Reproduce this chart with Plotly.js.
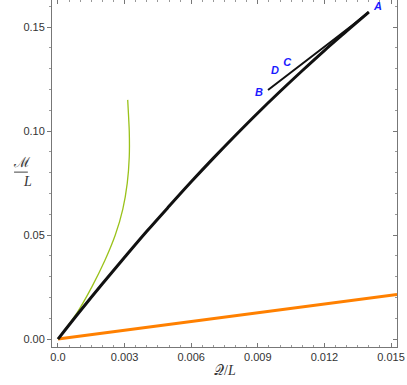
<!DOCTYPE html>
<html>
<head>
<meta charset="utf-8">
<script src="https://cdn.plot.ly/plotly-3.0.1.min.js"></script>
<style>
  html, body { margin: 0; padding: 0; background: #fff; }
  #plot { width: 407px; height: 385px; }
</style>
</head>
<body>
<div id="plot"></div>
<script>
  // lower black branch (origin up to A)
  var lowerQ = [0, 0.001, 0.002, 0.003, 0.004, 0.005, 0.006, 0.007, 0.008, 0.009, 0.010, 0.011, 0.012, 0.013, 0.0140];
  var lowerM = [0, 0.0135, 0.0266, 0.0393, 0.0518, 0.0638, 0.0756, 0.0870, 0.0980, 0.1087, 0.1190, 0.1290, 0.1387, 0.1480, 0.1572];

  // upper black branch (B up to A)
  var upperQ = [0.00946, 0.0105, 0.0115, 0.0125, 0.0133, 0.0140];
  var upperM = [0.1197, 0.1281, 0.1364, 0.1446, 0.1512, 0.1572];

  // thin green curve
  var greenQ = [0, 0.00085, 0.00152, 0.00210, 0.00258, 0.00292, 0.00312, 0.00321, 0.00321, 0.00314];
  var greenM = [0, 0.0125, 0.0250, 0.0375, 0.0500, 0.0625, 0.0750, 0.0875, 0.1000, 0.1150];

  // orange straight line
  var orangeQ = [0, 0.01527];
  var orangeM = [0, 0.0214];

  // point labels
  var labelText = ['A', 'B', 'C', 'D'];
  var labelQ = [0.01441, 0.00905, 0.01032, 0.00977];
  var labelM = [0.1596, 0.1183, 0.1327, 0.1288];

  var xTicks = [0, 0.003, 0.006, 0.009, 0.012, 0.015];
  var xTickText = ['0.0', '0.003', '0.006', '0.009', '0.012', '0.015'];
  var yTicks = [0, 0.05, 0.10, 0.15];
  var yTickText = ['0.00', '0.05', '0.10', '0.15'];

  var xRange = [-0.00027, 0.01527];
  var yRange = [-0.0038, 0.163];

  var data = [
    {x: orangeQ, y: orangeM, mode: 'lines', line: {color: '#ff8000', width: 3}, hoverinfo: 'skip'},
    {x: greenQ, y: greenM, mode: 'lines', line: {color: '#9ac21a', width: 1.3, shape: 'spline', smoothing: 0.5}, hoverinfo: 'skip'},
    {x: lowerQ, y: lowerM, mode: 'lines', line: {color: '#111', width: 3, shape: 'spline'}, hoverinfo: 'skip'},
    {x: upperQ, y: upperM, mode: 'lines', line: {color: '#111', width: 2}, hoverinfo: 'skip'},
    {x: labelQ, y: labelM, mode: 'text', text: labelText.map(function (t) { return '<b><i>' + t + '</i></b>'; }),
     textfont: {family: 'Liberation Sans, Arial, sans-serif', size: 11, color: '#1a1aff'}, hoverinfo: 'skip'}
  ];

  var tickFont = {family: 'Liberation Sans, Arial, sans-serif', size: 11, color: '#333'};

  var layout = {
    width: 407, height: 385,
    margin: {l: 52, r: 10, t: 0, b: 38},
    showlegend: false,
    plot_bgcolor: '#fff', paper_bgcolor: '#fff',
    xaxis: {
      range: xRange, tickvals: xTicks, ticktext: xTickText, tickfont: tickFont,
      showgrid: false, zeroline: false, showline: true, linecolor: '#777', linewidth: 1,
      ticks: 'inside', ticklen: 4, tickcolor: '#777',
      minor: {dtick: 0.0005, ticks: 'inside', ticklen: 2, tickcolor: '#999'}
    },
    yaxis: {
      range: yRange, tickvals: yTicks, ticktext: yTickText, tickfont: tickFont,
      showgrid: false, zeroline: false, showline: true, linecolor: '#777', linewidth: 1,
      ticks: 'outside', ticklen: 4, tickcolor: '#777',
      minor: {dtick: 0.01, ticks: 'outside', ticklen: 2, tickcolor: '#999'}
    },
    xaxis2: {
      range: xRange, overlaying: 'x', side: 'top', anchor: 'y2', tickvals: xTicks, showticklabels: false,
      showgrid: false, zeroline: false, showline: true, linecolor: '#777',
      ticks: 'inside', ticklen: 4, tickcolor: '#777',
      minor: {dtick: 0.0005, ticks: 'inside', ticklen: 2, tickcolor: '#999'}
    },
    yaxis2: {
      range: yRange, overlaying: 'y', side: 'right', anchor: 'x2', tickvals: yTicks, showticklabels: false,
      showgrid: false, zeroline: false, showline: true, linecolor: '#777',
      ticks: 'inside', ticklen: 4, tickcolor: '#777',
      minor: {dtick: 0.01, ticks: 'inside', ticklen: 2, tickcolor: '#999'}
    },
    annotations: [
      {xref: 'paper', yref: 'paper', x: 0.5, y: 0, yshift: -33, text: '𝒬/<i>L</i>', showarrow: false,
       font: {family: 'Liberation Serif, serif', size: 14, color: '#333'}},
      {xref: 'paper', yref: 'paper', x: 0, xshift: -41, y: 0.5, yshift: 11, text: 'ℳ', showarrow: false,
       font: {family: 'Liberation Serif, serif', size: 14, color: '#333'}},
      {xref: 'paper', yref: 'paper', x: 0, xshift: -31, y: 0.5, yshift: -8, text: '<i>L</i>', showarrow: false,
       font: {family: 'Liberation Serif, serif', size: 14, color: '#333'}}
    ],
    shapes: [
      {type: 'line', xref: 'paper', yref: 'paper', x0: -0.110, x1: -0.070, y0: 0.504, y1: 0.504,
       line: {color: '#444', width: 1}}
    ]
  };

  // invisible trace so the mirrored axes are drawn
  data.push({x: [xRange[0]], y: [yRange[0]], xaxis: 'x2', yaxis: 'y2', mode: 'markers', marker: {opacity: 0}, hoverinfo: 'skip'});

  Plotly.newPlot('plot', data, layout, {displayModeBar: false, staticPlot: true});
</script>
</body>
</html>
